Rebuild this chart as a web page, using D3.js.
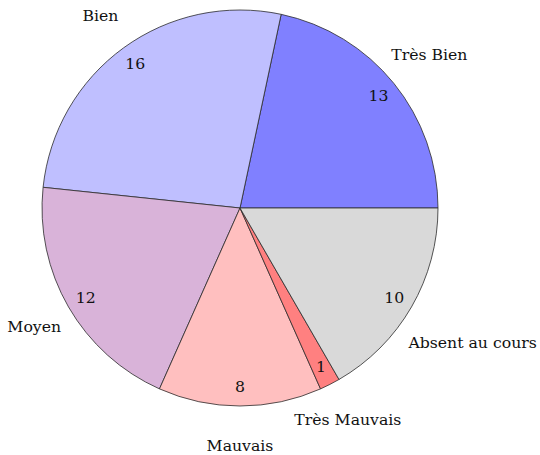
<!DOCTYPE html>
<html>
<head>
<meta charset="utf-8">
<script src="https://cdn.jsdelivr.net/npm/d3@7"></script>
<style>
  html, body { margin: 0; padding: 0; background: #fff; }
  svg { display: block; }
</style>
</head>
<body>
<svg id="chart" width="540" height="455"></svg>
<script>
// Appréciation du cours : effectifs par catégorie
const categories = ["Très Bien", "Bien", "Moyen", "Mauvais", "Très Mauvais", "Absent au cours"];
const counts = [13, 16, 12, 8, 1, 10];
const colors = ["#8080ff", "#bfbfff", "#d9b3d9", "#ffbfbf", "#ff8080", "#d9d9d9"];

const FONT = "DejaVu Serif";
const FONT_SIZE = 15.7;
const width = 540, height = 455;
const cx = 240, cy = 208, R = 198;
const valueRadius = 0.9 * R;   // numbers inside the slices
const labelRadius = 1.2 * R;   // category names outside
const labelGap = 12;           // minimum clearance between a label box and the disc

const svg = d3.select("#chart");
const g = svg.append("g").attr("transform", `translate(${cx},${cy})`);

const data = categories.map((c, i) => ({ category: c, value: counts[i], color: colors[i] }));

// Slices run counter-clockwise starting from the positive x axis (3 o'clock).
// d3.pie measures clockwise from 12 o'clock, so map: d3angle = PI/2 - mathAngle.
const pie = d3.pie()
  .sort(null)
  .value(d => d.value)
  .startAngle(Math.PI / 2)
  .endAngle(Math.PI / 2 - 2 * Math.PI);

const arcs = pie(data);
const arc = d3.arc().innerRadius(0).outerRadius(R);

g.selectAll("path.slice")
  .data(arcs)
  .join("path")
  .attr("class", "slice")
  .attr("d", arc)
  .attr("fill", d => d.data.color)
  .attr("stroke", "#2b2b2b")
  .attr("stroke-width", 0.8)
  .attr("stroke-linejoin", "round");

const mid = d => (d.startAngle + d.endAngle) / 2;   // d3 angle (clockwise from top)
const pt = (a, r) => [r * Math.sin(a), -r * Math.cos(a)];

// Values inside the slices
g.selectAll("text.value")
  .data(arcs)
  .join("text")
  .attr("class", "value")
  .attr("font-family", FONT)
  .attr("font-size", FONT_SIZE)
  .attr("fill", "#111")
  .attr("text-anchor", "middle")
  .attr("dominant-baseline", "central")
  .attr("x", d => pt(mid(d), valueRadius)[0])
  .attr("y", d => pt(mid(d), valueRadius)[1])
  .text(d => d.data.value);

// Category names outside, centred on the label radius and pushed outward
// along the bisector when the text box would touch the disc.
const labels = g.selectAll("text.label")
  .data(arcs)
  .join("text")
  .attr("class", "label")
  .attr("font-family", FONT)
  .attr("font-size", FONT_SIZE)
  .attr("fill", "#111")
  .attr("text-anchor", "middle")
  .attr("dominant-baseline", "central")
  .text(d => d.data.category);

labels.each(function(d) {
  const node = d3.select(this);
  const a = mid(d);
  const ux = Math.sin(a), uy = -Math.cos(a);
  node.attr("x", 0).attr("y", 0);
  const bb = this.getBBox();
  const hw = bb.width / 2, hh = 7;
  let r = labelRadius;
  const nearest = (r) => {
    const x = ux * r, y = uy * r;
    const nx = Math.max(Math.abs(x) - hw, 0);
    const ny = Math.max(Math.abs(y) - hh, 0);
    return Math.hypot(nx, ny);
  };
  while (nearest(r) < R + labelGap && r < 2 * R) r += 1;
  node.attr("x", ux * r).attr("y", uy * r);
});
</script>
</body>
</html>
